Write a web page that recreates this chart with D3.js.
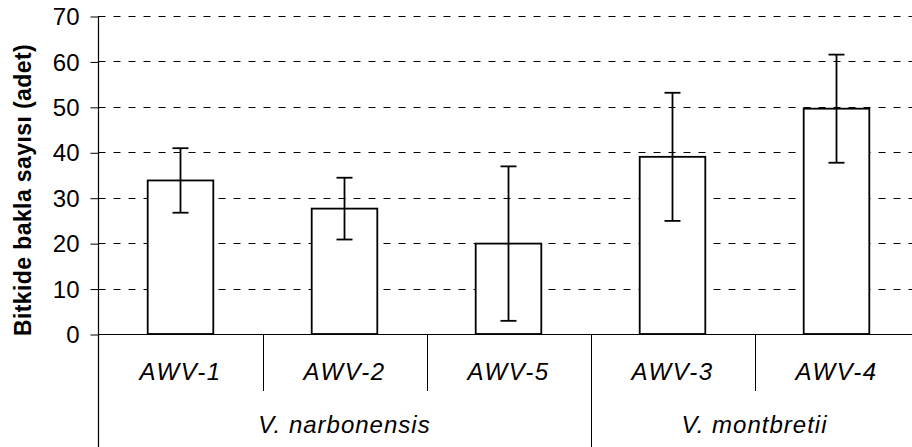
<!DOCTYPE html>
<html>
<head>
<meta charset="utf-8">
<script src="https://cdn.jsdelivr.net/npm/d3@7"></script>
<style>
  html, body { margin: 0; padding: 0; background: #fff; }
  svg { display: block; }
  text { font-family: "Liberation Sans", Arial, sans-serif; fill: #000; }
</style>
</head>
<body>
<svg id="chart" width="912" height="447"></svg>
<script>
const categories = ["AWV-1", "AWV-2", "AWV-5", "AWV-3", "AWV-4"];
const groups = ["V. narbonensis", "V. narbonensis", "V. narbonensis", "V. montbretii", "V. montbretii"];
const means = [33.8, 27.6, 19.9, 39.0, 49.6];
const errors = [7.1, 6.8, 17.0, 14.1, 11.9];
const yTicks = [0, 10, 20, 30, 40, 50, 60, 70];
const yLabel = "Bitkide bakla sayısı (adet)";

(function () {
const svg = d3.select("#chart");
const pLeft = 98.5, pRight = 918.5, pTop = 16, pBottom = 334;

const x = d3.scaleBand().domain(categories).range([pLeft, pRight]).paddingInner(0).paddingOuter(0);
const y = d3.scaleLinear().domain([0, 70]).range([pBottom, pTop]);

// gridlines
svg.append("g").selectAll("line").data(yTicks.filter(d => d > 0)).join("line")
  .attr("x1", pLeft).attr("x2", pRight)
  .attr("y1", d => Math.round(y(d)) + 0.5).attr("y2", d => Math.round(y(d)) + 0.5)
  .attr("stroke", "#000").attr("stroke-width", 1).attr("stroke-dasharray", "7,8");

// y axis
const yAxis = d3.axisLeft(y).tickValues(yTicks).tickSize(8).tickPadding(11).tickFormat(d3.format("d"));
const gy = svg.append("g").attr("transform", `translate(${pLeft},0)`).call(yAxis);
gy.select(".domain").remove();
gy.selectAll(".tick line").attr("stroke", "#000").attr("y1", 0.5).attr("y2", 0.5);
gy.selectAll(".tick text").style("font-size", "24px").attr("dy", "0.36em")
  .style("font-family", "'Liberation Sans', Arial, sans-serif");
svg.append("line").attr("x1", pLeft).attr("x2", pLeft).attr("y1", pTop).attr("y2", 447)
  .attr("stroke", "#000").attr("stroke-width", 1.2);

// bars
const bw = x.bandwidth() * 0.4;
svg.append("g").selectAll("rect").data(categories).join("rect")
  .attr("x", (d) => x(d) + (x.bandwidth() - bw) / 2)
  .attr("width", bw)
  .attr("y", (d, i) => y(means[i]))
  .attr("height", (d, i) => pBottom - y(means[i]))
  .attr("fill", "#fff").attr("stroke", "#000").attr("stroke-width", 1.8);

// x axis baseline
svg.append("line").attr("x1", pLeft).attr("x2", pRight).attr("y1", pBottom + 0.5).attr("y2", pBottom + 0.5)
  .attr("stroke", "#000").attr("stroke-width", 1.2);

// error bars
const eg = svg.append("g").attr("stroke", "#000").attr("stroke-width", 1.8);
categories.forEach((c, i) => {
  const cx = x(c) + x.bandwidth() / 2;
  const y1 = y(means[i] + errors[i]), y2 = y(means[i] - errors[i]);
  eg.append("line").attr("x1", cx).attr("x2", cx).attr("y1", y1).attr("y2", y2);
  eg.append("line").attr("x1", cx - 8).attr("x2", cx + 8).attr("y1", y1).attr("y2", y1);
  eg.append("line").attr("x1", cx - 8).attr("x2", cx + 8).attr("y1", y2).attr("y2", y2);
});

// category separators
categories.forEach((c, i) => {
  if (i === 0) return;
  const xs = Math.round(x(c)) + 0.5;
  const groupBoundary = groups[i] !== groups[i - 1];
  svg.append("line").attr("x1", xs).attr("x2", xs).attr("y1", pBottom)
    .attr("y2", groupBoundary ? 447 : 391).attr("stroke", "#000").attr("stroke-width", 1);
});

// category labels
svg.append("g").selectAll("text").data(categories).join("text")
  .attr("x", d => x(d) + x.bandwidth() / 2).attr("y", 380)
  .attr("text-anchor", "middle").style("font-size", "24px").style("font-style", "italic")
  .style("letter-spacing", "1.5px")
  .text(d => d);

// group labels
const groupNames = Array.from(new Set(groups));
groupNames.forEach(g => {
  const idx = groups.map((v, i) => v === g ? i : -1).filter(i => i >= 0);
  const x0 = x(categories[idx[0]]);
  const x1 = x(categories[idx[idx.length - 1]]) + x.bandwidth();
  svg.append("text").attr("x", (x0 + x1) / 2).attr("y", 433)
    .attr("text-anchor", "middle").style("font-size", "24px").style("font-style", "italic")
    .style("letter-spacing", "1px")
    .text(g);
});

// y label
svg.append("text").attr("transform", "translate(31,190) rotate(-90)")
  .attr("text-anchor", "middle").style("font-size", "23px").style("font-weight", "bold")
  .style("letter-spacing", "0.4px")
  .text(yLabel);
})();
</script>
</body>
</html>
